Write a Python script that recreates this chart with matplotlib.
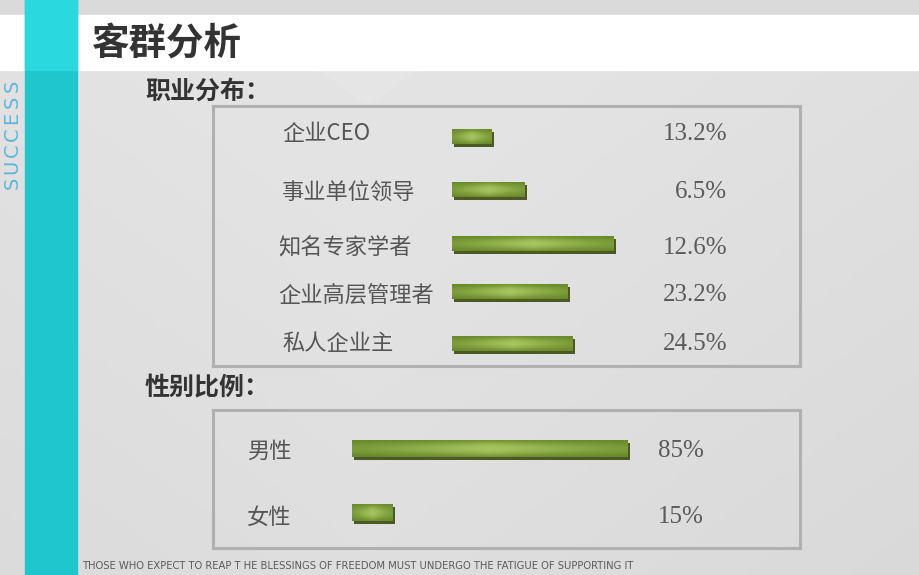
import numpy as np
import matplotlib.pyplot as plt
from matplotlib.patches import Rectangle
from matplotlib.colors import LinearSegmentedColormap

plt.rcParams['font.family'] = ['Noto Sans CJK SC', 'DejaVu Sans']

# ---- data ----
title = '客群分析'
job_header = '职业分布：'
job_labels = ['企业CEO', '事业单位领导', '知名专家学者', '企业高层管理者', '私人企业主']
job_pct = ['13.2%', '6.5%', '12.6%', '23.2%', '24.5%']
job_bar = [40, 73, 162, 116, 121]          # drawn bar lengths (as on slide)

sex_header = '性别比例：'
sex_labels = ['男性', '女性']
sex_pct = ['85%', '15%']
sex_bar = [276, 41]

side_text = 'SUCCESS'
footer = 'THOSE WHO EXPECT TO REAP T HE BLESSINGS OF FREEDOM MUST UNDERGO THE FATIGUE OF SUPPORTING IT'

# row layout (pixel rows on the slide)
job_rows = [137, 190, 244, 292, 344]
sex_rows = [449, 513]

W, H = 920, 575
fig = plt.figure(figsize=(9.2, 5.75), dpi=100)

# background canvas in pixel coordinates
bg = fig.add_axes([0, 0, 1, 1])
bg.set_xlim(0, W)
bg.set_ylim(H, 0)
bg.axis('off')
gx = np.linspace(0, 1, 256)
gy = np.linspace(0, 1, 128)[:, None]
grad = 0.90 - 0.035 * np.abs(gx - 0.4) - 0.03 * gy
bg.imshow(grad, cmap='gray', vmin=0, vmax=1, extent=[0, W, H, 0], aspect='auto')
bg.add_patch(Rectangle((0, 0), W, 15, color='#dadada'))
bg.add_patch(Rectangle((0, 15), W, 55, color='white'))
bg.add_patch(Rectangle((25, 0), 52, H, color='#1fc6cc'))
bg.add_patch(Rectangle((25, 0), 52, 70, color='#2ad8df'))
for k, ch in enumerate(side_text):
    bg.text(12, 183 - k * 16.2, ch, rotation=90, ha='center', va='center', color='#5fb6d8',
            fontsize=14, family=['DejaVu Sans'])
bg.text(92, 44, title, ha='left', va='center', fontsize=27, fontweight='bold', color='#333333')
bg.text(145, 92, job_header, ha='left', va='center', fontsize=18, fontweight='bold', color='#333333')
bg.text(145, 388, sex_header, ha='left', va='center', fontsize=18, fontweight='bold', color='#333333')
bg.text(82, 566, footer, ha='left', va='center', fontsize=7.2, color='#5a5a5a',
        family=['DejaVu Sans'])

bar_cmap = LinearSegmentedColormap.from_list('bar', ['#6a8a2c', '#7e9e3c', '#a8c660'])


def px_axes(x0, y0, x1, y1):
    ax = fig.add_axes([x0 / W, 1 - y1 / H, (x1 - x0) / W, (y1 - y0) / H])
    ax.set_facecolor('none')
    ax.set_xticks([])
    ax.set_yticks([])
    for s in ax.spines.values():
        s.set_color('#b0b0b0')
        s.set_linewidth(2.2)
    return ax


def bars(ax, rows, vals, h):
    ax.barh(np.array(rows) + 2, vals, height=h, left=2, color='#4a5a22', zorder=2)
    u = np.linspace(-1, 1, 100)
    v = np.linspace(-1, 1, 30)[:, None]
    glow = np.clip(1 - 0.55 * np.abs(u) - 0.7 * v ** 2, 0, 1)
    for yi, val in zip(rows, vals):
        ax.imshow(glow, cmap=bar_cmap, vmin=0, vmax=1, aspect='auto', zorder=3,
                  extent=[0, val, yi + h / 2, yi - h / 2], interpolation='bilinear')


# ---- occupation panel ----
ax1 = px_axes(213, 106, 800, 366)
bars(ax1, job_rows, job_bar, 15)
ax1.set_xlim(-239, 348)
ax1.set_ylim(366, 106)
for i, (lab, p) in enumerate(zip(job_labels, job_pct)):
    xl = -170 if i in (0, 1, 4) else -174
    ty = job_rows[i] + [-3, 2, 4, 3, 0][i]
    ax1.text(xl, ty, lab, ha='left', va='center', fontsize=16, color='#555555',
             family=['Noto Sans CJK SC', 'DejaVu Sans'])
    ax1.text(275, ty, p, ha='right', va='center', fontsize=18, color='#5a5a5a',
             family=['Liberation Serif'])

# ---- gender panel ----
ax2 = px_axes(213, 410, 800, 548)
bars(ax2, sex_rows, sex_bar, [17, 15][0])
ax2.set_xlim(-139, 448)
ax2.set_ylim(548, 410)
for i, (lab, p) in enumerate(zip(sex_labels, sex_pct)):
    ty = sex_rows[i] + [2, 4][i]
    ax2.text(-105, ty, lab, ha='left', va='center', fontsize=16, color='#555555')
    ax2.text(306, ty, p, ha='left', va='center', fontsize=18, color='#5a5a5a',
             family=['Liberation Serif'])

fig.savefig('out.png', dpi=100)
